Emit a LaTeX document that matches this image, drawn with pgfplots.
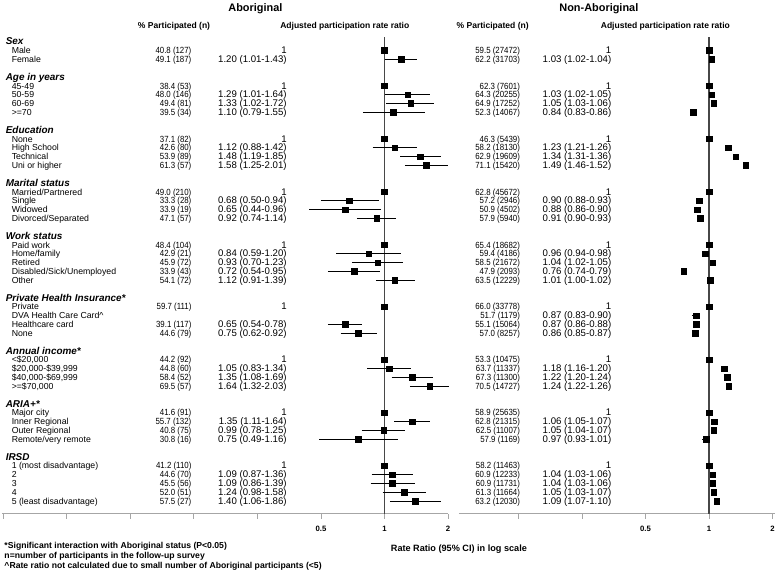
\documentclass[border=0pt]{standalone}
\usepackage{fontspec}
\setmainfont{Liberation Sans}
\newfontfamily\narrowsans[FakeStretch=0.88]{Liberation Sans}
\usepackage{pgfplots}
\pgfplotsset{compat=1.18}
\usepackage{pgfplotstable}

% row rr lo hi  (rows counted from the top, 0 = "Sex")
\pgfplotstableread{
row rr lo hi
1 1 1 1
2 1.20 1.01 1.43
5 1 1 1
6 1.29 1.01 1.64
7 1.33 1.02 1.72
8 1.10 0.79 1.55
11 1 1 1
12 1.12 0.88 1.42
13 1.48 1.19 1.85
14 1.58 1.25 2.01
17 1 1 1
18 0.68 0.50 0.94
19 0.65 0.44 0.96
20 0.92 0.74 1.14
23 1 1 1
24 0.84 0.59 1.20
25 0.93 0.70 1.23
26 0.72 0.54 0.95
27 1.12 0.91 1.39
30 1 1 1
32 0.65 0.54 0.78
33 0.75 0.62 0.92
36 1 1 1
37 1.05 0.83 1.34
38 1.35 1.08 1.69
39 1.64 1.32 2.03
42 1 1 1
43 1.35 1.11 1.64
44 0.99 0.78 1.25
45 0.75 0.49 1.16
48 1 1 1
49 1.09 0.87 1.36
50 1.09 0.86 1.39
51 1.24 0.98 1.58
52 1.40 1.06 1.86
}\aborig

\pgfplotstableread{
row rr lo hi
1 1 1 1
2 1.03 1.02 1.04
5 1 1 1
6 1.03 1.02 1.05
7 1.05 1.03 1.06
8 0.84 0.83 0.86
11 1 1 1
12 1.23 1.21 1.26
13 1.34 1.31 1.36
14 1.49 1.46 1.52
17 1 1 1
18 0.90 0.88 0.93
19 0.88 0.86 0.90
20 0.91 0.90 0.93
23 1 1 1
24 0.96 0.94 0.98
25 1.04 1.02 1.05
26 0.76 0.74 0.79
27 1.01 1.00 1.02
30 1 1 1
31 0.87 0.83 0.90
32 0.87 0.86 0.88
33 0.86 0.85 0.87
36 1 1 1
37 1.18 1.16 1.20
38 1.22 1.20 1.24
39 1.24 1.22 1.26
42 1 1 1
43 1.06 1.05 1.07
44 1.05 1.04 1.07
45 0.97 0.93 1.01
48 1 1 1
49 1.04 1.03 1.06
50 1.04 1.03 1.06
51 1.05 1.03 1.07
52 1.09 1.07 1.10
}\nonab

% confidence interval segments, one per table row
\newcommand\cilines[1]{%
  \pgfplotstablegetrowsof{#1}%
  \pgfmathtruncatemacro\nrows{\pgfplotsretval-1}%
  \foreach \i in {0,...,\nrows}{%
    \pgfplotstablegetelem{\i}{row}\of{#1}\let\cirow\pgfplotsretval
    \pgfplotstablegetelem{\i}{lo}\of{#1}\let\cilo\pgfplotsretval
    \pgfplotstablegetelem{\i}{hi}\of{#1}\let\cihi\pgfplotsretval
    \edef\tmp{\noexpand\addplot[black,line width=1.1pt,forget plot]
      coordinates {(\cilo,\cirow) (\cihi,\cirow)};}\tmp
  }}

\newcommand\body{\fontsize{8.8}{10}\selectfont}
\newcommand\pctf{\narrowsans\fontsize{9}{10}\selectfont}
\newcommand\rrf{\fontsize{9.7}{10}\selectfont}
\newcommand\grp[2]{\node[anchor=base west,font=\fontsize{10}{11}\selectfont\bfseries\itshape] at (0,{532.3-8.9*#1}) {#2};}
\newcommand\rowtxt[6]{%
  \node[anchor=base west,font=\body] at (6,{532.3-8.9*#1}) {#2};
  \node[anchor=base east,font=\pctf] at (194,{532.3-8.9*#1}) {#3};
  \node[anchor=base east,font=\rrf] at (290,{532.3-8.9*#1}) {#4};
  \node[anchor=base east,font=\pctf] at (525,{532.3-8.9*#1}) {#5};
  \node[anchor=base east,font=\rrf] at (617,{532.3-8.9*#1}) {#6};}

\begin{document}
\begin{tikzpicture}[x=1pt,y=1pt]
\path (0,0) rectangle (778,575);

\begin{axis}[at={(0pt,60pt)}, anchor=south west,
  scale only axis, width=449pt, height=480pt,
  xmode=log, log basis x=2,
  xmin=0.015457, xmax=2,
  ymin=-0.5, ymax=53.42, y dir=reverse,
  axis y line=none, axis x line=bottom,
  x axis line style={-,draw=black!35,line width=0.8pt},
  tick align=outside, major tick length=5pt,
  xtick style={draw=black!35,line width=0.8pt},
  xticklabel style={font=\fontsize{7.8}{8}\selectfont\bfseries,yshift=-4pt},
  clip=false,
  xtick={0.015625,0.03125,0.0625,0.125,0.25,0.5,1,2},
  xticklabels={,,,,,0.5,1,2}]
\addplot[black!72, line width=1.8pt] coordinates {(1,-0.5) (1,53.42)};
\cilines{\aborig}
\addplot[only marks, mark=square*, mark size=2.8pt, black]
  table[x=rr, y=row] {\aborig};
\end{axis}

\begin{axis}[at={(460pt,60pt)}, anchor=south west,
  scale only axis, width=318pt, height=480pt,
  xmode=log, log basis x=2,
  xmin=0.06534, xmax=2.0441,
  ymin=-0.5, ymax=53.42, y dir=reverse,
  axis y line=none, axis x line=bottom,
  x axis line style={-,draw=black!35,line width=0.8pt},
  tick align=outside, major tick length=5pt,
  xtick style={draw=black!35,line width=0.8pt},
  xticklabel style={font=\fontsize{7.8}{8}\selectfont\bfseries,yshift=-4pt},
  clip=false,
  xtick={0.125,0.25,0.5,1,2},
  xticklabels={,,0.5,1,2}]
\addplot[black!72, line width=1.8pt] coordinates {(1,-0.5) (1,53.42)};
\cilines{\nonab}
\addplot[only marks, mark=square*, mark size=2.8pt, black]
  table[x=rr, y=row] {\nonab};
\end{axis}

% titles and column headers
\node[font=\fontsize{11}{12}\selectfont\bfseries] at (255,569) {Aboriginal};
\node[font=\fontsize{11}{12}\selectfont\bfseries] at (601,569) {Non-Aboriginal};
\node[font=\fontsize{8.6}{10}\selectfont\bfseries] at (173,551) {\% Participated (n)};
\node[font=\fontsize{8.6}{10}\selectfont\bfseries] at (345,551) {Adjusted participation rate ratio};
\node[font=\fontsize{8.6}{10}\selectfont\bfseries] at (494,551) {\% Participated (n)};
\node[font=\fontsize{8.6}{10}\selectfont\bfseries] at (668,551) {Adjusted participation rate ratio};

\grp{0}{Sex}
\rowtxt{1}{Male}{40.8 (127)}{1}{59.5 (27472)}{1}
\rowtxt{2}{Female}{49.1 (187)}{1.20 (1.01-1.43)}{62.2 (31703)}{1.03 (1.02-1.04)}
\grp{4}{Age in years}
\rowtxt{5}{45-49}{38.4 (53)}{1}{62.3 (7601)}{1}
\rowtxt{6}{50-59}{48.0 (146)}{1.29 (1.01-1.64)}{64.3 (20255)}{1.03 (1.02-1.05)}
\rowtxt{7}{60-69}{49.4 (81)}{1.33 (1.02-1.72)}{64.9 (17252)}{1.05 (1.03-1.06)}
\rowtxt{8}{>=70}{39.5 (34)}{1.10 (0.79-1.55)}{52.3 (14067)}{0.84 (0.83-0.86)}
\grp{10}{Education}
\rowtxt{11}{None}{37.1 (82)}{1}{46.3 (5439)}{1}
\rowtxt{12}{High School}{42.6 (80)}{1.12 (0.88-1.42)}{58.2 (18130)}{1.23 (1.21-1.26)}
\rowtxt{13}{Technical}{53.9 (89)}{1.48 (1.19-1.85)}{62.9 (19609)}{1.34 (1.31-1.36)}
\rowtxt{14}{Uni or higher}{61.3 (57)}{1.58 (1.25-2.01)}{71.1 (15420)}{1.49 (1.46-1.52)}
\grp{16}{Marital status}
\rowtxt{17}{Married/Partnered}{49.0 (210)}{1}{62.8 (45672)}{1}
\rowtxt{18}{Single}{33.3 (28)}{0.68 (0.50-0.94)}{57.2 (2946)}{0.90 (0.88-0.93)}
\rowtxt{19}{Widowed}{33.9 (19)}{0.65 (0.44-0.96)}{50.9 (4502)}{0.88 (0.86-0.90)}
\rowtxt{20}{Divorced/Separated}{47.1 (57)}{0.92 (0.74-1.14)}{57.9 (5940)}{0.91 (0.90-0.93)}
\grp{22}{Work status}
\rowtxt{23}{Paid work}{48.4 (104)}{1}{65.4 (18682)}{1}
\rowtxt{24}{Home/family}{42.9 (21)}{0.84 (0.59-1.20)}{59.4 (4186)}{0.96 (0.94-0.98)}
\rowtxt{25}{Retired}{45.9 (72)}{0.93 (0.70-1.23)}{58.5 (21672)}{1.04 (1.02-1.05)}
\rowtxt{26}{Disabled/Sick/Unemployed}{33.9 (43)}{0.72 (0.54-0.95)}{47.9 (2093)}{0.76 (0.74-0.79)}
\rowtxt{27}{Other}{54.1 (72)}{1.12 (0.91-1.39)}{63.5 (12229)}{1.01 (1.00-1.02)}
\grp{29}{Private Health Insurance*}
\rowtxt{30}{Private}{59.7 (111)}{1}{66.0 (33778)}{1}
\rowtxt{31}{DVA Health Care Card\textasciicircum}{}{}{51.7 (1179)}{0.87 (0.83-0.90)}
\rowtxt{32}{Healthcare card}{39.1 (117)}{0.65 (0.54-0.78)}{55.1 (15064)}{0.87 (0.86-0.88)}
\rowtxt{33}{None}{44.6 (79)}{0.75 (0.62-0.92)}{57.0 (8257)}{0.86 (0.85-0.87)}
\grp{35}{Annual income*}
\rowtxt{36}{<\$20,000}{44.2 (92)}{1}{53.3 (10475)}{1}
\rowtxt{37}{\$20,000-\$39,999}{44.8 (60)}{1.05 (0.83-1.34)}{63.7 (11337)}{1.18 (1.16-1.20)}
\rowtxt{38}{\$40,000-\$69,999}{58.4 (52)}{1.35 (1.08-1.69)}{67.3 (11300)}{1.22 (1.20-1.24)}
\rowtxt{39}{>=\$70,000}{69.5 (57)}{1.64 (1.32-2.03)}{70.5 (14727)}{1.24 (1.22-1.26)}
\grp{41}{ARIA+*}
\rowtxt{42}{Major city}{41.6 (91)}{1}{58.9 (25635)}{1}
\rowtxt{43}{Inner Regional}{55.7 (132)}{1.35 (1.11-1.64)}{62.8 (21315)}{1.06 (1.05-1.07)}
\rowtxt{44}{Outer Regional}{40.8 (75)}{0.99 (0.78-1.25)}{62.5 (11007)}{1.05 (1.04-1.07)}
\rowtxt{45}{Remote/very remote}{30.8 (16)}{0.75 (0.49-1.16)}{57.9 (1169)}{0.97 (0.93-1.01)}
\grp{47}{IRSD}
\rowtxt{48}{1 (most disadvantage)}{41.2 (110)}{1}{58.2 (11463)}{1}
\rowtxt{49}{2}{44.6 (70)}{1.09 (0.87-1.36)}{60.9 (12233)}{1.04 (1.03-1.06)}
\rowtxt{50}{3}{45.5 (56)}{1.09 (0.86-1.39)}{60.9 (11731)}{1.04 (1.03-1.06)}
\rowtxt{51}{4}{52.0 (51)}{1.24 (0.98-1.58)}{61.3 (11664)}{1.05 (1.03-1.07)}
\rowtxt{52}{5 (least disadvantage)}{57.5 (27)}{1.40 (1.06-1.86)}{63.2 (12030)}{1.09 (1.07-1.10)}

% axis title and notes
\node[font=\fontsize{9.2}{10}\selectfont\bfseries] at (460,24) {Rate Ratio (95\% CI) in log scale};
\begin{scope}[every node/.style={anchor=base west,font=\fontsize{8.7}{10}\selectfont\bfseries,inner xsep=0pt}]
\node at (2,25) {*Significant interaction with Aboriginal status (P<0.05)};
\node at (2,15) {n=number of participants in the follow-up survey};
\node at (2,5) {\textasciicircum Rate ratio not calculated due to small number of Aboriginal participants (<5)};
\end{scope}
\end{tikzpicture}
\end{document}
